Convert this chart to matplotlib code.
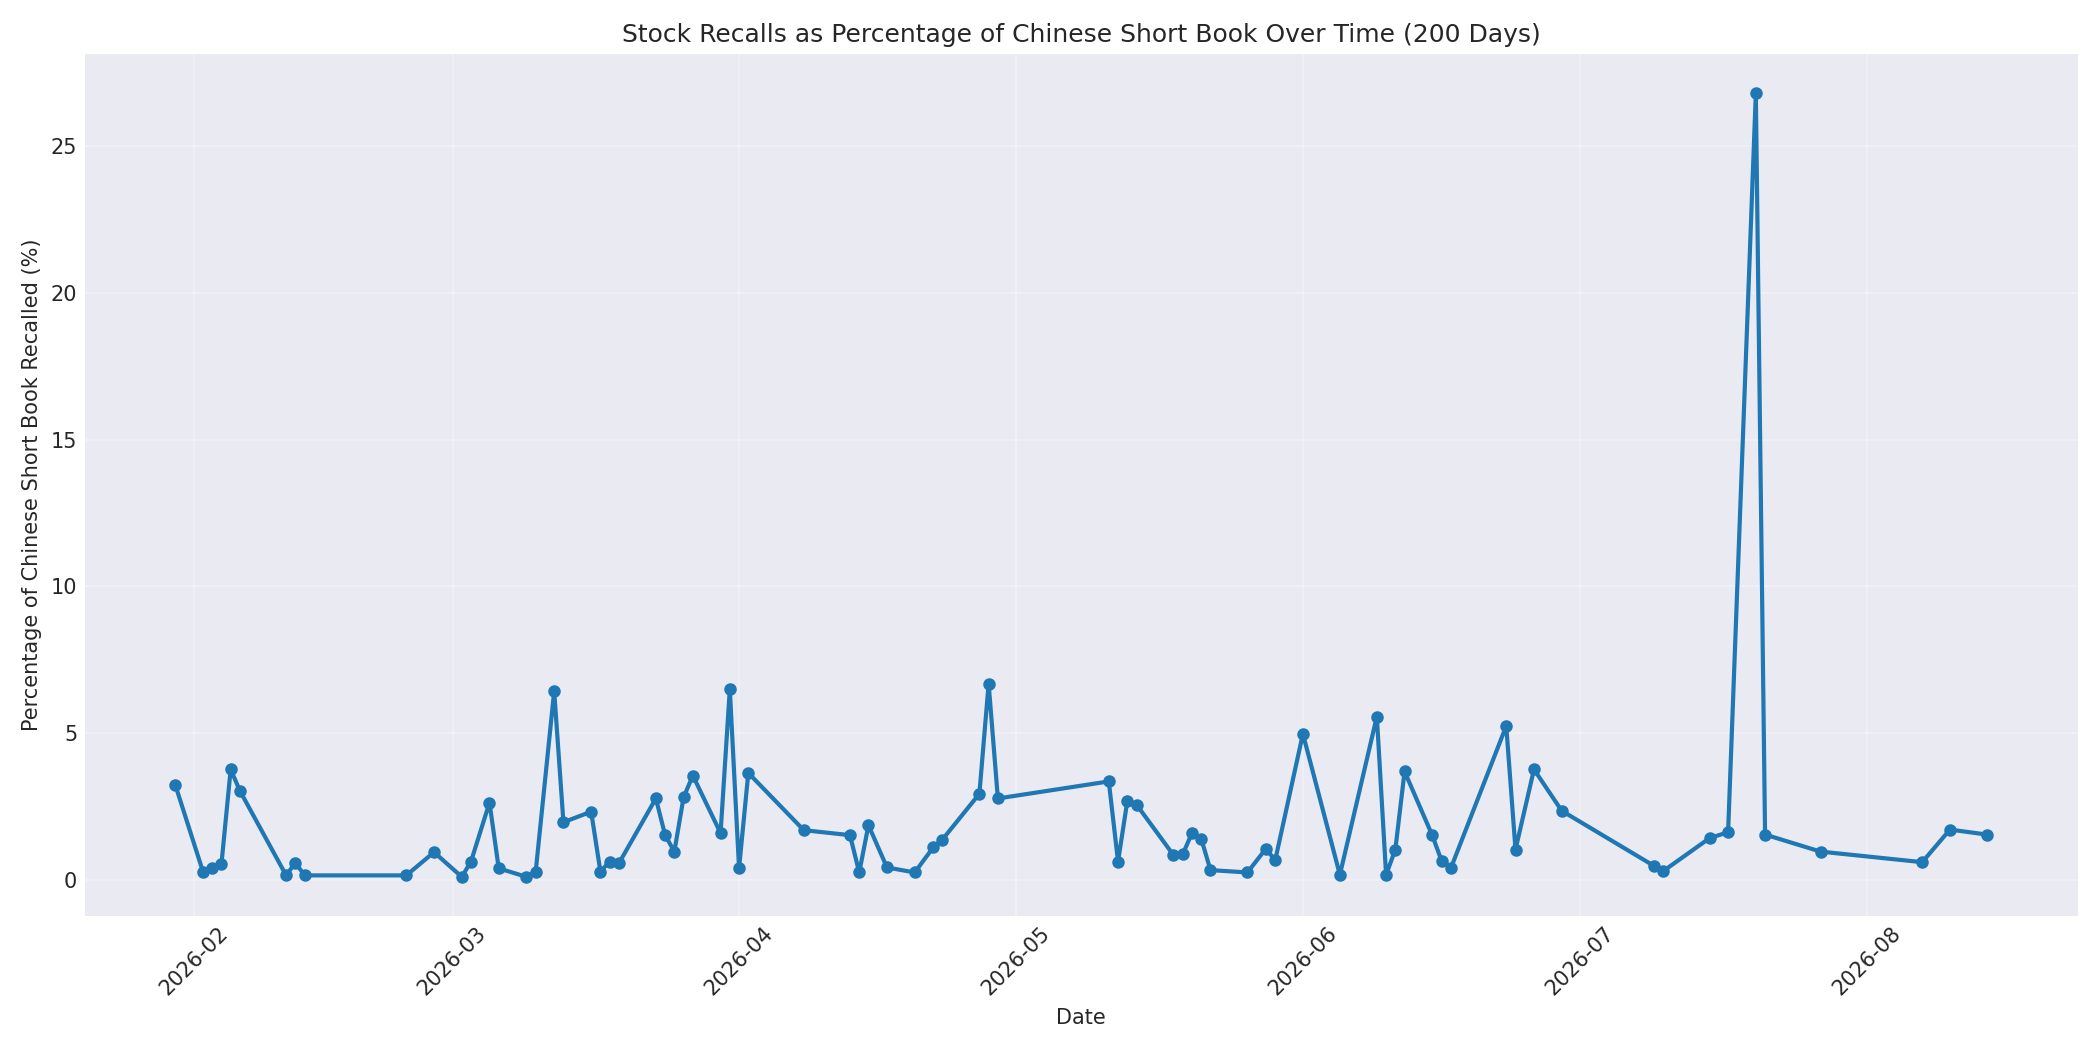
import pandas as pd
import matplotlib
matplotlib.use('Agg')
import matplotlib.pyplot as plt

dates = [
    '2026-01-30', '2026-02-02', '2026-02-03', '2026-02-04', '2026-02-05', '2026-02-06',
    '2026-02-11', '2026-02-12', '2026-02-13', '2026-02-24', '2026-02-27',
    '2026-03-02', '2026-03-03', '2026-03-05', '2026-03-06', '2026-03-09', '2026-03-10',
    '2026-03-12', '2026-03-13', '2026-03-16', '2026-03-17', '2026-03-18', '2026-03-19',
    '2026-03-23', '2026-03-24', '2026-03-25', '2026-03-26', '2026-03-27', '2026-03-30',
    '2026-03-31', '2026-04-01', '2026-04-02', '2026-04-08', '2026-04-13', '2026-04-14',
    '2026-04-15', '2026-04-17', '2026-04-20', '2026-04-22', '2026-04-23', '2026-04-27',
    '2026-04-28', '2026-04-29', '2026-05-11', '2026-05-12', '2026-05-13', '2026-05-14',
    '2026-05-18', '2026-05-19', '2026-05-20', '2026-05-21', '2026-05-22', '2026-05-26',
    '2026-05-28', '2026-05-29', '2026-06-01', '2026-06-05', '2026-06-09', '2026-06-10',
    '2026-06-11', '2026-06-12', '2026-06-15', '2026-06-16', '2026-06-17', '2026-06-23',
    '2026-06-24', '2026-06-26', '2026-06-29', '2026-07-09', '2026-07-10', '2026-07-15',
    '2026-07-17', '2026-07-20', '2026-07-21', '2026-07-27', '2026-08-07', '2026-08-10',
    '2026-08-14',
]

recall_pct = [
    3.25, 0.29, 0.40, 0.54, 3.77, 3.04,
    0.16, 0.59, 0.16, 0.16, 0.95,
    0.11, 0.63, 2.64, 0.40, 0.11, 0.29,
    6.44, 1.97, 2.33, 0.29, 0.63, 0.57,
    2.78, 1.53, 0.97, 2.82, 3.56, 1.60,
    6.50, 0.40, 3.65, 1.70, 1.53, 0.26,
    1.87, 0.43, 0.26, 1.11, 1.38, 2.94,
    6.69, 2.78, 3.36, 0.63, 2.68, 2.57,
    0.85, 0.88, 1.60, 1.41, 0.34, 0.26,
    1.07, 0.67, 4.98, 0.18, 5.57, 0.18,
    1.04, 3.70, 1.52, 0.66, 0.40, 5.25,
    1.04, 3.77, 2.36, 0.48, 0.31, 1.43,
    1.63, 26.8, 1.55, 0.97, 0.61, 1.72,
    1.55,
]

dates = pd.to_datetime(dates)

plt.style.use('seaborn-v0_8-darkgrid')
plt.rcParams['font.family'] = ['DejaVu Sans']
fig, ax = plt.subplots(figsize=(14, 7), dpi=150)
ax.plot(dates, recall_pct, marker='o', markersize=5, linewidth=2, color='#1f77b4')
ax.set_title('Stock Recalls as Percentage of Chinese Short Book Over Time (200 Days)')
ax.set_xlabel('Date')
ax.set_ylabel('Percentage of Chinese Short Book Recalled (%)')
ax.grid(True, alpha=0.3)
plt.xticks(rotation=45)
plt.tight_layout()
plt.savefig('out.png')
